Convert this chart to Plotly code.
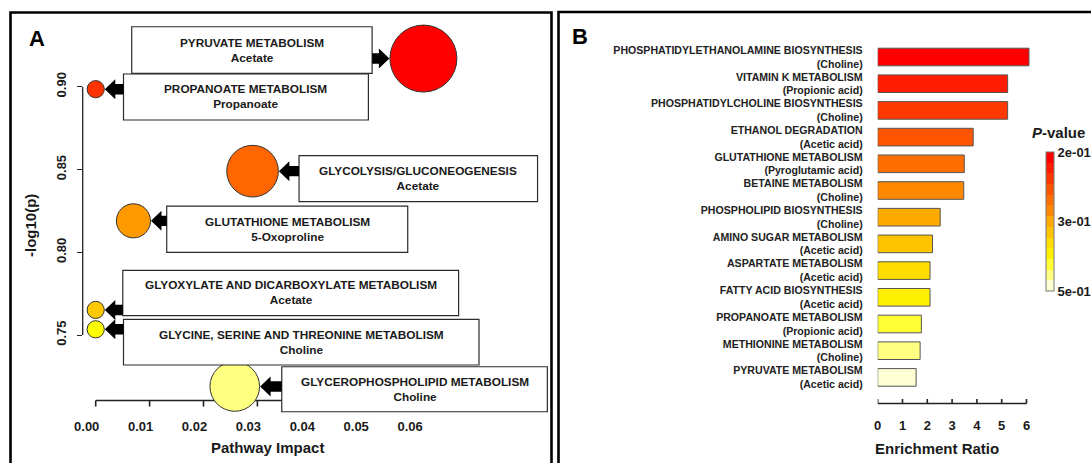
import math
import plotly.graph_objects as go

# ---------------- Panel A: pathway topology (impact vs -log10 p) ----------------
pathways_a = [
    "PYRUVATE METABOLISM",
    "PROPANOATE METABOLISM",
    "GLYCOLYSIS/GLUCONEOGENESIS",
    "GLUTATHIONE METABOLISM",
    "GLYOXYLATE AND DICARBOXYLATE METABOLISM",
    "GLYCINE, SERINE AND THREONINE METABOLISM",
    "GLYCEROPHOSPHOLIPID METABOLISM",
]
metabolites_a = ["Acetate", "Propanoate", "Acetate", "5-Oxoproline", "Acetate", "Choline", "Choline"]
impact_a = [0.0608, 0.0, 0.0291, 0.0070, 0.0, 0.0, 0.0258]
neglogp_a = [0.917, 0.8985, 0.849, 0.819, 0.7652, 0.7535, 0.719]
x_ticks_a = [0.00, 0.01, 0.02, 0.03, 0.04, 0.05, 0.06]
y_ticks_a = [0.75, 0.80, 0.85, 0.90]

# ---------------- Panel B: enrichment overview ----------------
pathways_b = [
    "PHOSPHATIDYLETHANOLAMINE BIOSYNTHESIS",
    "VITAMIN K METABOLISM",
    "PHOSPHATIDYLCHOLINE BIOSYNTHESIS",
    "ETHANOL DEGRADATION",
    "GLUTATHIONE METABOLISM",
    "BETAINE METABOLISM",
    "PHOSPHOLIPID BIOSYNTHESIS",
    "AMINO SUGAR METABOLISM",
    "ASPARTATE METABOLISM",
    "FATTY ACID BIOSYNTHESIS",
    "PROPANOATE METABOLISM",
    "METHIONINE METABOLISM",
    "PYRUVATE METABOLISM",
]
sources_b = [
    "Choline", "Propionic acid", "Choline", "Acetic acid", "Pyroglutamic acid", "Choline",
    "Choline", "Acetic acid", "Acetic acid", "Acetic acid", "Propionic acid", "Choline", "Acetic acid",
]
ratio_b = [6.10, 5.24, 5.24, 3.85, 3.49, 3.47, 2.52, 2.21, 2.11, 2.11, 1.76, 1.71, 1.55]
pvalue_b = [0.200, 0.221, 0.236, 0.256, 0.272, 0.292, 0.315, 0.338, 0.362, 0.388, 0.418, 0.448, 0.498]
x_ticks_b = [0, 1, 2, 3, 4, 5, 6]

# ---------------- styling ----------------
W, H = 1091, 463
FONT = "Arial, Liberation Sans, Helvetica, sans-serif"
INK = "#1a1a1a"
AXIS = "#222222"


def fx(px):
    return px / W


def fy(py):
    return 1 - py / H


bubble_colors = ["#FF0000", "#FF3300", "#FF6600", "#FF9900", "#FFC800", "#FFFF00", "#FFFF80"]


def bubble_radius(imp):
    return 8.6 + 101 * math.sqrt(imp)


# label boxes (left, right, top, bottom) in px relative to each bubble, y downward
box_a = [
    (-291.7, -51.3, -31.8, 14.8),
    (27.8, 272.7, -15.2, 30.8),
    (46.5, 285.0, -15.5, 30.5),
    (33.3, 274.3, -14.8, 31.5),
    (27.1, 362.9, -39.6, 5.7),
    (27.8, 383.3, -10.0, 35.7),
    (47.0, 312.6, -19.7, 25.3),
]
HEAD_LEN, HEAD_HALF, SHAFT_HALF = 10.5, 10.0, 5.2

# axis scaling for panel A (pixel anchors)
A_X0_PX, A_X_PER = 95.7, 5390.0       # px at impact 0, px per unit impact
A_Y90_PX, A_Y_PER = 86.7, 1656.0      # px at 0.90, px per unit
A_LEFT, A_RIGHT, A_TOP, A_BOTTOM = 82.7, 550.0, 14.0, 420.0
A_AXIS_PX = 400.5                     # x axis line sits inside the drawing area
A_TICK_PX = 6
a_xrange = [(A_LEFT - A_X0_PX) / A_X_PER, (A_RIGHT - A_X0_PX) / A_X_PER]
a_yrange = [0.90 - (A_BOTTOM - A_Y90_PX) / A_Y_PER, 0.90 + (A_Y90_PX - A_TOP) / A_Y_PER]
a_xaxis_y = 0.90 - (A_AXIS_PX - A_Y90_PX) / A_Y_PER
a_tick_end = a_xaxis_y - A_TICK_PX / A_Y_PER

# panel B geometry
B_X0_PX, B_X_PER = 877.7, 24.8
B_RIGHT = 1042.0
B_ROW0_PX, B_PITCH = 57.0, 26.7
B_TOP, B_BOTTOM = 42.0, 415.0
B_AXIS_PX = 403.5
B_TICK_PX = 4.5
b_xrange = [0, (B_RIGHT - B_X0_PX) / B_X_PER]
b_yrange = [(B_BOTTOM - B_ROW0_PX) / B_PITCH, (B_TOP - B_ROW0_PX) / B_PITCH]
b_xaxis_y = (B_AXIS_PX - B_ROW0_PX) / B_PITCH
b_tick_end = b_xaxis_y - B_TICK_PX / B_PITCH

labels_b = [f"{p}<br>({s})" for p, s in zip(pathways_b, sources_b)]
color_val_b = [-math.log10(p) for p in pvalue_b]
cmin = -math.log10(0.5)
cmax = -math.log10(min(pvalue_b))

band_colors = [
    "#FFFFD4", "#FFFF80", "#FFFF33", "#FFF000", "#FFDD00", "#FFC400", "#FFAA00",
    "#FF8800", "#FF6E00", "#FF5500", "#FF3800", "#FF1C00", "#FF0000",
]
n = len(band_colors)
colorscale = []
for i, c in enumerate(band_colors):
    colorscale.append([i / n, c])
    colorscale.append([(i + 1) / n, c])

cb_ticks = [cmax, (cmin + cmax) / 2, cmin]
cb_text = [f"{10 ** -v:.0e}" for v in cb_ticks]


def axis_path(ticks, base, tip):
    """Axis line across the tick span plus one short segment per tick."""
    xs = [ticks[0], ticks[-1], None]
    ys = [base, base, None]
    for t in ticks:
        xs += [t, t, None]
        ys += [base, tip, None]
    return xs, ys


fig = go.Figure()

# panel A bottom axis (drawn first so the bubbles sit on top of it)
ax_x, ax_y = axis_path(x_ticks_a, a_xaxis_y, a_tick_end)
fig.add_trace(go.Scatter(
    x=ax_x, y=ax_y, mode="lines", line=dict(color=AXIS, width=1.6),
    hoverinfo="skip", xaxis="x", yaxis="y", showlegend=False, cliponaxis=False,
))

fig.add_trace(go.Scatter(
    x=impact_a, y=neglogp_a, mode="markers",
    marker=dict(
        size=[2 * bubble_radius(v) for v in impact_a],
        color=bubble_colors,
        line=dict(color="#333333", width=1),
        opacity=1,
    ),
    hoverinfo="skip", xaxis="x", yaxis="y", showlegend=False,
))

# panel B bottom axis with inward ticks
bx_x, bx_y = axis_path(x_ticks_b, b_xaxis_y, b_tick_end)
fig.add_trace(go.Scatter(
    x=bx_x, y=bx_y, mode="lines", line=dict(color=AXIS, width=1.6),
    hoverinfo="skip", xaxis="x2", yaxis="y3", showlegend=False, cliponaxis=False,
))

fig.add_trace(go.Bar(
    x=ratio_b, y=labels_b, orientation="h", width=0.66,
    marker=dict(
        color=color_val_b, colorscale=colorscale, cmin=cmin, cmax=cmax,
        line=dict(color="#555555", width=1),
        colorbar=dict(
            x=fx(1046), xanchor="left", xpad=0, ypad=0,
            y=fy(221.5), yanchor="middle",
            thickness=8, thicknessmode="pixels",
            len=139, lenmode="pixels",
            outlinewidth=1, outlinecolor="#777777",
            tickvals=cb_ticks, ticktext=cb_text, ticks="",
            tickfont=dict(family=FONT, size=13, color=INK, weight="bold"),
            borderwidth=0,
        ),
    ),
    hoverinfo="skip", xaxis="x2", yaxis="y2", showlegend=False,
))

shapes = []
annotations = []

# panel frames
shapes.append(dict(type="rect", xref="paper", yref="paper", x0=fx(10.5), x1=fx(551.5),
                   y0=fy(12.5), y1=fy(485), line=dict(color="black", width=2.6),
                   fillcolor="rgba(0,0,0,0)", layer="above"))
shapes.append(dict(type="rect", xref="paper", yref="paper", x0=fx(558.5), x1=fx(1120),
                   y0=fy(12.0), y1=fy(485), line=dict(color="black", width=2.6),
                   fillcolor="rgba(0,0,0,0)", layer="above"))

# panel A left axis line (span only the tick range)
shapes.append(dict(type="line", xref="x domain", yref="y", x0=0, x1=0,
                   y0=y_ticks_a[0], y1=y_ticks_a[-1], line=dict(color=AXIS, width=1.3), layer="below"))

# label boxes, block arrows and box text for panel A
for name, met, imp, nlp, (l, r, t, b) in zip(pathways_a, metabolites_a, impact_a, neglogp_a, box_a):
    rad = bubble_radius(imp)
    shapes.append(dict(type="rect", xref="x", yref="y", xsizemode="pixel", ysizemode="pixel",
                       xanchor=imp, yanchor=nlp, x0=l, x1=r, y0=-t, y1=-b,
                       line=dict(color="#2b2b2b", width=1.2), fillcolor="white", layer="above"))
    if l > 0:
        tip, base, d = rad + 0.5, l, 1
    else:
        tip, base, d = -rad - 0.5, r, -1
    hx = tip + d * HEAD_LEN
    path = (f"M{tip},0 L{hx},{HEAD_HALF} L{hx},{SHAFT_HALF} L{base},{SHAFT_HALF} "
            f"L{base},{-SHAFT_HALF} L{hx},{-SHAFT_HALF} L{hx},{-HEAD_HALF} Z")
    shapes.append(dict(type="path", xref="x", yref="y", xsizemode="pixel", ysizemode="pixel",
                       xanchor=imp, yanchor=nlp, path=path,
                       fillcolor="black", line=dict(width=0), layer="above"))
    annotations.append(dict(
        x=imp, y=nlp, xref="x", yref="y", showarrow=False,
        xanchor="center", yanchor="middle",
        xshift=(l + r) / 2, yshift=-(t + b) / 2,
        text=f"<b>{name}</b><br><b>{met}</b>",
        font=dict(family=FONT, size=11.8, color=INK), align="center",
    ))

# panel letters and axis titles
annotations += [
    dict(x=fx(37), y=fy(38), xref="paper", yref="paper", text="<b>A</b>", showarrow=False,
         xanchor="center", yanchor="middle", font=dict(family=FONT, size=22, color="black")),
    dict(x=fx(579.5), y=fy(36), xref="paper", yref="paper", text="<b>B</b>", showarrow=False,
         xanchor="center", yanchor="middle", font=dict(family=FONT, size=22, color="black")),
    dict(x=fx(267), y=fy(447), xref="paper", yref="paper", text="<b>Pathway Impact</b>", showarrow=False,
         xanchor="center", yanchor="middle", font=dict(family=FONT, size=15, color=INK)),
    dict(x=fx(30), y=fy(226), xref="paper", yref="paper", text="<b>-log10(p)</b>", showarrow=False,
         textangle=-90, xanchor="center", yanchor="middle", font=dict(family=FONT, size=15, color=INK)),
    dict(x=fx(936.7), y=fy(448.3), xref="paper", yref="paper", text="<b>Enrichment Ratio</b>", showarrow=False,
         xanchor="center", yanchor="middle", font=dict(family=FONT, size=15, color=INK)),
    dict(x=fx(1030), y=fy(132.5), xref="paper", yref="paper", text="<b><i>P</i>-value</b>", showarrow=False,
         xanchor="left", yanchor="middle", font=dict(family=FONT, size=15, color=INK)),
]

tick_font = dict(family=FONT, size=13, color=INK, weight="bold")

fig.update_layout(
    width=W, height=H,
    margin=dict(l=0, r=0, t=0, b=0, autoexpand=False),
    paper_bgcolor="white", plot_bgcolor="rgba(0,0,0,0)",
    showlegend=False,
    shapes=shapes, annotations=annotations,
    xaxis=dict(
        domain=[fx(A_LEFT), fx(A_RIGHT)], range=a_xrange, anchor="free", position=fy(A_AXIS_PX),
        tickvals=x_ticks_a, tickformat=".2f", ticks="", showline=False, showgrid=False,
        zeroline=False, tickfont=tick_font, ticklabelshift=-9,
        ticklabelstandoff=16, automargin=False,
    ),
    yaxis=dict(
        domain=[fy(A_BOTTOM), fy(A_TOP)], range=a_yrange, anchor="x",
        tickvals=y_ticks_a, tickformat=".2f", tickangle=-90, ticks="outside", ticklen=4.5,
        tickwidth=1.3, tickcolor=AXIS, showline=False, showgrid=False, zeroline=False,
        tickfont=tick_font, ticklabelstandoff=6, layer="below traces", automargin=False,
    ),
    xaxis2=dict(
        domain=[fx(B_X0_PX), fx(B_RIGHT)], range=b_xrange, anchor="free", position=fy(B_AXIS_PX),
        tickvals=x_ticks_b, ticks="", showline=False, showgrid=False, zeroline=False,
        tickfont=tick_font, ticklabelstandoff=12, automargin=False,
    ),
    yaxis2=dict(
        domain=[fy(B_BOTTOM), fy(B_TOP)], range=b_yrange, anchor="x2",
        type="category", categoryorder="array", categoryarray=labels_b,
        ticks="", showline=False, showgrid=False, zeroline=False,
        tickfont=dict(family=FONT, size=10.6, color="#222222", weight="bold"),
        ticklabelstandoff=14, automargin=False,
    ),
    # numeric twin of the category axis, used only to place the bottom axis line
    yaxis3=dict(
        domain=[fy(B_BOTTOM), fy(B_TOP)], range=b_yrange, anchor="x2", overlaying="y2",
        visible=False, showgrid=False, zeroline=False,
    ),
)

fig.write_html("out.html")
